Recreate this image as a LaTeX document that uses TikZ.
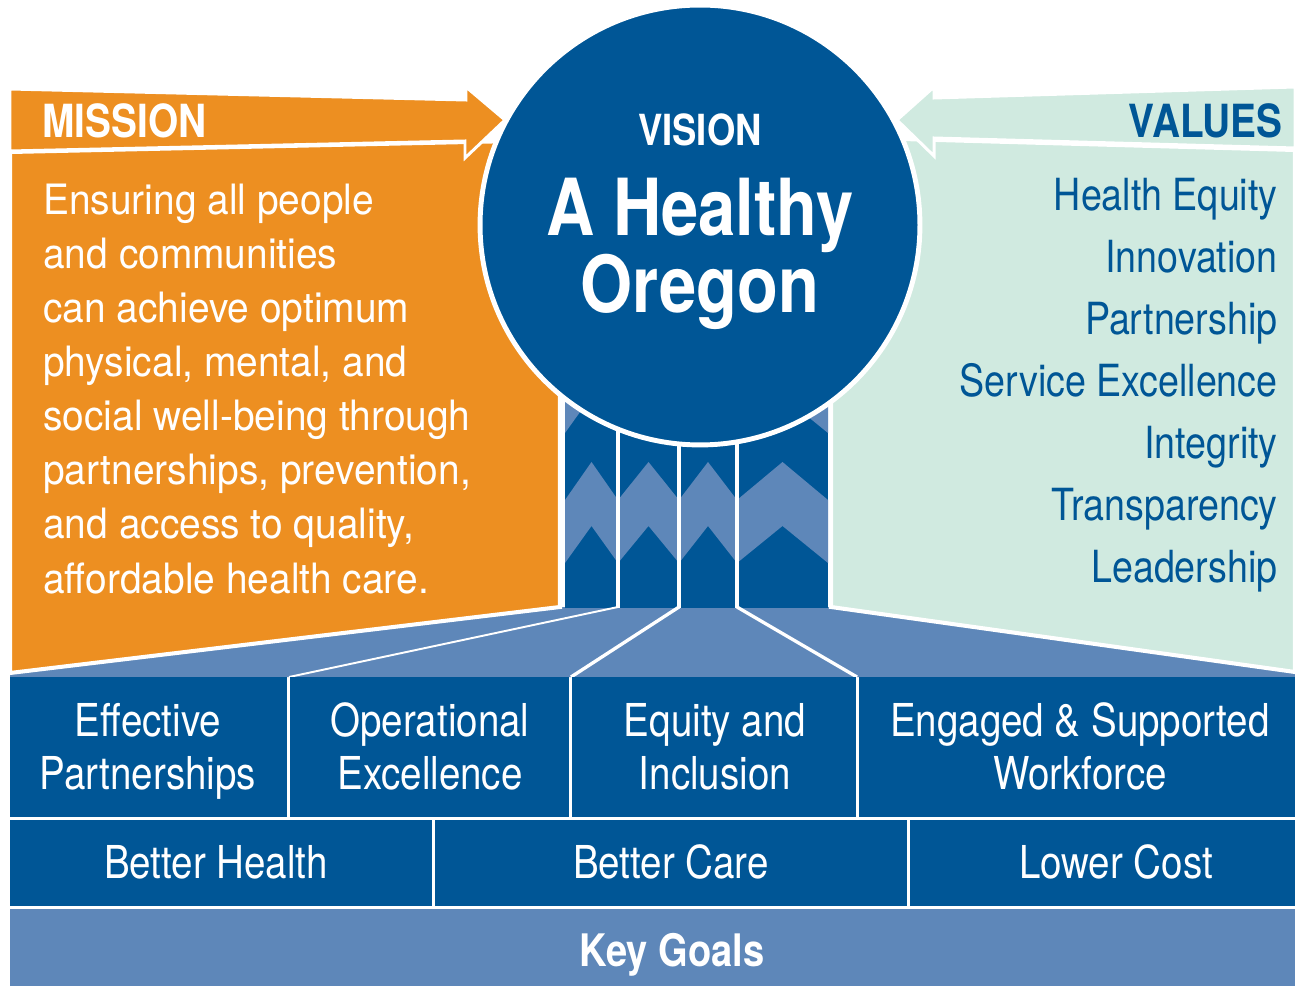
\documentclass[tikz,border=0pt]{standalone}
\usepackage{fontspec}
\setmainfont{TeX Gyre Heros}[FakeStretch=0.85]
\newfontfamily\missionfont{TeX Gyre Heros}[FakeStretch=0.93]
\usetikzlibrary{positioning, fit, backgrounds}
\definecolor{OHABlue}{RGB}{0, 86, 150}
\definecolor{OHALight}{RGB}{94, 135, 185}
\definecolor{OHAOrange}{RGB}{237, 143, 33}
\definecolor{OHAMint}{RGB}{208, 234, 224}

\begin{document}
\begin{tikzpicture}[
    % Grid: one unit is one pixel of the layout, y runs downwards
    x=0.02cm, y=-0.02cm,
    % --- STYLES ---
    % Panels: coloured areas with a white rim
    panel/.style={
        draw=white,
        line width=2.3pt
    },
    arrowpanel/.style={
        draw=white,
        line width=1.7pt
    },
    % Separators: white lines
    gap/.style={
        draw=white,
        line width=1.9pt
    },
    thingap/.style={
        draw=white,
        line width=1.1pt
    },
    % Headings: bold, condensed
    head/.style={
        inner sep=0pt,
        font=\fontsize{26}{30}\selectfont\bfseries
    },
    % Panel texts (anchored on the baseline of the last line)
    missionbody/.style={
        inner sep=0pt,
        align=left,
        text=white,
        font=\missionfont\fontsize{23.8}{30.8}\selectfont
    },
    valuebody/.style={
        inner sep=0pt,
        align=right,
        text=OHABlue,
        font=\fontsize{25.2}{35.2}\selectfont
    },
    % Cells of the two lower rows
    cell/.style={
        fill=OHABlue,
        inner sep=0pt
    },
    celltext/.style={
        inner sep=0pt,
        align=center,
        text=white,
        anchor=base,
        font=\fontsize{25.8}{30}\selectfont
    }
]

% --- 0. CANVAS ---
\fill[white] (0,0) rectangle (1295,986);
\useasboundingbox (0,0) rectangle (1295,986);

% --- 1. FAN BELOW THE PANELS ---
\fill[OHALight] (10,677) -- (10,673) -- (560,607) -- (830,607) -- (1295,672) -- (1295,677) -- cycle;

% --- 2. MISSION PANEL ---
\path[panel, fill=OHAOrange] (10,152) -- (560,140) -- (560,607) -- (10,673) -- cycle;
\path[arrowpanel, fill=OHAOrange] (10,89) -- (466,100) -- (466,87) -- (505,120) -- (465,158) -- (465,141) -- (10,151) -- cycle;

% --- 3. VALUES PANEL ---
\path[panel, fill=OHAMint] (1295,150) -- (831,137) -- (831,607) -- (1295,672) -- cycle;
\path[arrowpanel, fill=OHAMint] (1295,87) -- (934,98) -- (934,87) -- (897,120) -- (934,156) -- (934,138) -- (1295,148) -- cycle;

% --- 4. CHEVRON COLUMNS ---
\fill[OHABlue] (565,380) rectangle (828,608);
\begin{scope}
    \clip (565,380) rectangle (828,608);
    % lower chevrons
    \fill[OHALight] (565,500) -- (591.5,462) -- (618,500) -- (618,563) -- (591.5,526) -- (565,563) -- cycle;
    \fill[OHALight] (618,500) -- (648.5,462) -- (679,500) -- (679,563) -- (648.5,526) -- (618,563) -- cycle;
    \fill[OHALight] (679,500) -- (708,462) -- (737,500) -- (737,563) -- (708,526) -- (679,563) -- cycle;
    \fill[OHALight] (737,500) -- (782.5,462) -- (828,500) -- (828,563) -- (782.5,526) -- (737,563) -- cycle;
    % upper chevrons, mostly under the circle
    \fill[OHALight] (565,370) -- (591.5,332) -- (618,370) -- (618,433) -- (591.5,396) -- (565,433) -- cycle;
    \fill[OHALight] (618,370) -- (648.5,332) -- (679,370) -- (679,433) -- (648.5,396) -- (618,433) -- cycle;
    \fill[OHALight] (679,370) -- (708,332) -- (737,370) -- (737,433) -- (708,396) -- (679,433) -- cycle;
    \fill[OHALight] (737,370) -- (782.5,332) -- (828,370) -- (828,433) -- (782.5,396) -- (737,433) -- cycle;
\end{scope}
\draw[gap] (618,380) -- (618,608);
\draw[gap] (679,380) -- (679,608);
\draw[gap] (737,380) -- (737,608);

% Fan lines down to the focus areas
\draw[thingap] (618,607) -- (289,677);
\draw[gap] (679,607) -- (571,677);
\draw[gap] (737,607) -- (857,677);

% --- 5. VISION CIRCLE ---
\node (vision) [circle, fill=OHABlue, draw=white, line width=2.8pt, minimum size=8.8cm, inner sep=0pt] at (700,225) {};
\node (visiontitle) [head, text=white, font=\fontsize{24.4}{28}\selectfont\bfseries, anchor=base] at (700,146) {VISION};
\node (healthy) [inner sep=0pt, align=center, text=white, font=\fontsize{44.8}{42}\selectfont\bfseries, anchor=base] at (700,313) {A Healthy\\Oregon};

% --- 6. PANEL TEXTS ---
\node (mission) [head, text=white, anchor=base west] at (42,138) {MISSION};
\node (missiontext) [missionbody, anchor=base west] at (43,593) {Ensuring all people\\and communities\\can achieve optimum\\physical, mental, and\\social well-being through\\partnerships, prevention,\\and access to quality,\\affordable health care.};

\node (values) [head, text=OHABlue, anchor=base east] at (1283,138) {VALUES};
\node (valuelist) [valuebody, anchor=base east] at (1278,582) {Health Equity\\Innovation\\Partnership\\Service Excellence\\Integrity\\Transparency\\Leadership};

% --- 7. FOCUS AREAS ---
\node (partnersbox) [cell, fit={(10,677) (287,817)}] {};
\node (operationalbox) [cell, fit={(290,677) (569,817)}] {};
\node (equitybox) [cell, fit={(572,677) (856,817)}] {};
\node (workforcebox) [cell, fit={(859,677) (1295,817)}] {};

\node (partners) [celltext] at (148,789) {Effective\\Partnerships};
\node (operational) [celltext] at (430,789) {Operational\\Excellence};
\node (equity) [celltext] at (715,789) {Equity and\\Inclusion};
\node (workforce) [celltext] at (1080,789) {Engaged \& Supported\\Workforce};

% --- 8. KEY GOALS ---
\node (healthbox) [cell, fit={(10,820) (432,906)}] {};
\node (carebox) [cell, fit={(435,820) (907,906)}] {};
\node (costbox) [cell, fit={(910,820) (1295,906)}] {};

\node (health) [celltext] at (216,878) {Better Health};
\node (care) [celltext] at (671,878) {Better Care};
\node (cost) [celltext] at (1116,878) {Lower Cost};

\node (goalsbar) [fill=OHALight, inner sep=0pt, fit={(10,909) (1295,986)}] {};
\node (goals) [head, text=white, font=\fontsize{25.5}{30}\selectfont\bfseries, anchor=base] at (672,966) {Key Goals};

\end{tikzpicture}
\end{document}
